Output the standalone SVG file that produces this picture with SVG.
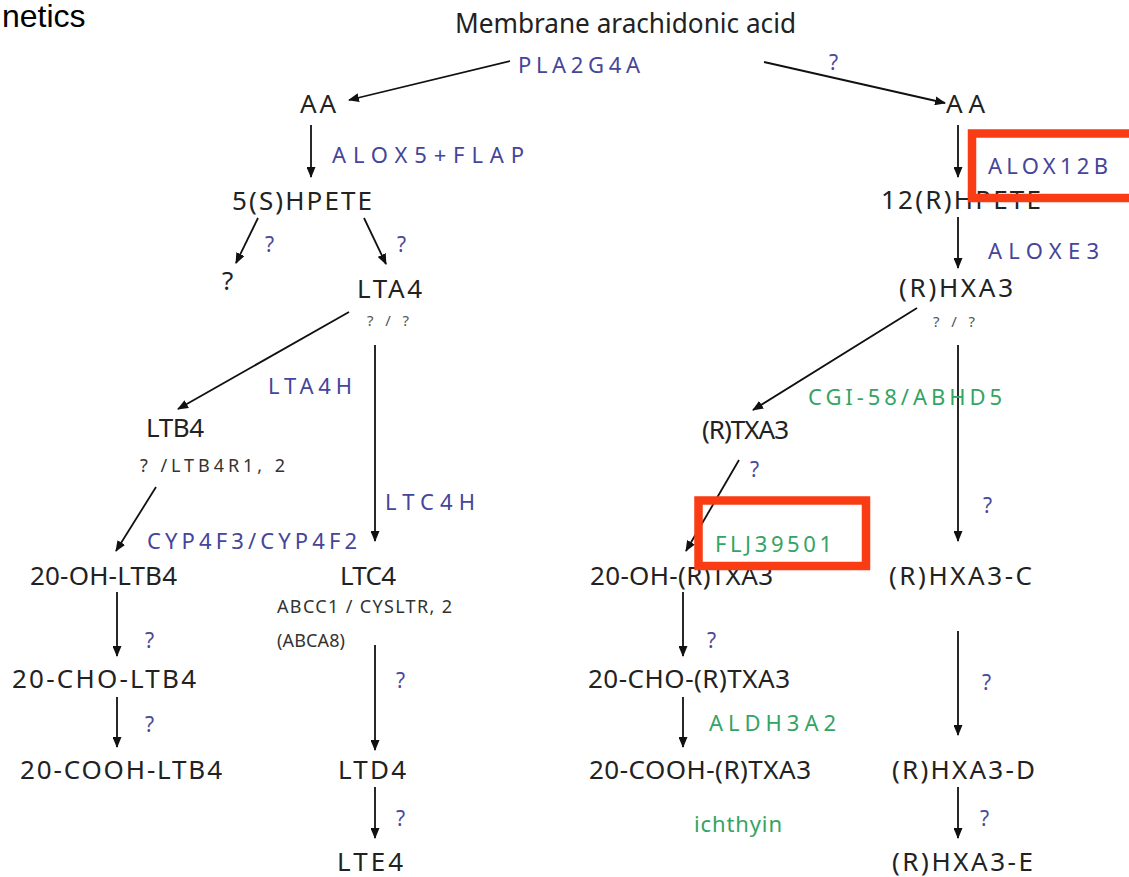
<svg xmlns="http://www.w3.org/2000/svg" width="1129" height="877" viewBox="0 0 1129 877">
  <style>
    .node { font-family: "Noto Sans", "Liberation Sans", sans-serif; font-size: 26px; fill: #222; }
    .title { font-family: "Noto Sans", "Liberation Sans", sans-serif; font-size: 27px; fill: #222; }
    .enz { font-family: "Noto Sans", "Liberation Sans", sans-serif; font-size: 22px; fill: #45459a; }
    .enzg { font-family: "Noto Sans", "Liberation Sans", sans-serif; font-size: 22px; fill: #33a463; }
    .q { font-family: "Noto Sans", "Liberation Sans", sans-serif; font-size: 21px; fill: #4a4a9c; }
    .small { font-family: "Noto Sans", "Liberation Sans", sans-serif; font-size: 15px; fill: #555; }
    .rec { font-family: "Noto Sans", "Liberation Sans", sans-serif; font-size: 18px; fill: #333; }
    .edge { stroke: #111; stroke-width: 1.8; fill: none; marker-end: url(#head); }
    .hl { fill: none; stroke: #fa3c14; stroke-width: 8.5; }
  </style>
  <defs>
    <marker id="head" markerUnits="userSpaceOnUse" markerWidth="11" markerHeight="9" refX="10" refY="4.5" orient="auto">
      <path d="M0,0 L11,4.5 L0,9 z" fill="#111"/>
    </marker>
  </defs>
  <rect width="1129" height="877" fill="#fff"/>

  <text x="2" y="27" font-family="Liberation Sans, Arial, sans-serif" font-size="32" fill="#000">netics</text>

  <!-- reaction arrows -->
  <g id="connectors">
    <line class="edge" x1="510" y1="61" x2="349" y2="100"/>
    <line class="edge" x1="764" y1="62" x2="945" y2="103"/>
    <line class="edge" x1="311" y1="125" x2="311" y2="177"/>
    <line class="edge" x1="258" y1="218" x2="236" y2="263"/>
    <line class="edge" x1="364" y1="218" x2="386" y2="264"/>
    <line class="edge" x1="349" y1="312" x2="178" y2="409"/>
    <line class="edge" x1="375" y1="345" x2="375" y2="541"/>
    <line class="edge" x1="156" y1="487" x2="116" y2="551"/>
    <line class="edge" x1="117" y1="592" x2="117" y2="656"/>
    <line class="edge" x1="117" y1="697" x2="117" y2="747"/>
    <line class="edge" x1="375" y1="645" x2="375" y2="750"/>
    <line class="edge" x1="375" y1="787" x2="375" y2="838"/>
    <line class="edge" x1="958" y1="125" x2="958" y2="177"/>
    <line class="edge" x1="958" y1="217" x2="958" y2="268"/>
    <line class="edge" x1="917" y1="308" x2="753" y2="410"/>
    <line class="edge" x1="958" y1="345" x2="958" y2="541"/>
    <line class="edge" x1="739" y1="460" x2="686" y2="551"/>
    <line class="edge" x1="683" y1="592" x2="683" y2="656"/>
    <line class="edge" x1="683" y1="697" x2="683" y2="747"/>
    <line class="edge" x1="958" y1="631" x2="958" y2="735"/>
    <line class="edge" x1="958" y1="787" x2="958" y2="838"/>
  </g>

  <!-- metabolites -->
  <g id="n-membrane"><text class="title" x="455" y="33" textLength="341" lengthAdjust="spacingAndGlyphs">Membrane arachidonic acid</text></g>
  <g id="n-aa-left"><text class="node" x="300" y="113" textLength="36">AA</text></g>
  <g id="n-aa-right"><text class="node" x="946" y="113" textLength="39">AA</text></g>
  <g id="n-5shpete"><text class="node" x="232" y="210" textLength="140">5(S)HPETE</text></g>
  <g id="n-unknown"><text class="node" x="222" y="290">?</text></g>
  <g id="n-lta4"><text class="node" x="357" y="298" textLength="65">LTA4</text></g>
  <g id="n-ltb4"><text class="node" x="146" y="437" font-size="24" textLength="58">LTB4</text></g>
  <g id="n-20oh-ltb4"><text class="node" x="30" y="585" textLength="147">20-OH-LTB4</text></g>
  <g id="n-ltc4"><text class="node" x="340" y="585" textLength="56">LTC4</text></g>
  <g id="n-20cho-ltb4"><text class="node" x="12" y="688" textLength="184">20-CHO-LTB4</text></g>
  <g id="n-20cooh-ltb4"><text class="node" x="20" y="779" textLength="202">20-COOH-LTB4</text></g>
  <g id="n-ltd4"><text class="node" x="338" y="779" textLength="68">LTD4</text></g>
  <g id="n-lte4"><text class="node" x="337" y="871" textLength="66">LTE4</text></g>
  <g id="n-12rhpete"><text class="node" x="881" y="209" textLength="160">12(R)HPETE</text></g>
  <g id="n-rhxa3"><text class="node" x="899" y="297" textLength="114">(R)HXA3</text></g>
  <g id="n-rtxa3"><text class="node" x="702" y="439" font-size="23" textLength="87">(R)TXA3</text></g>
  <g id="n-20oh-rtxa3"><text class="node" x="590" y="585" textLength="183">20-OH-(R)TXA3</text></g>
  <g id="n-rhxa3-c"><text class="node" x="889" y="585" textLength="143">(R)HXA3-C</text></g>
  <g id="n-20cho-rtxa3"><text class="node" x="588" y="688" textLength="202">20-CHO-(R)TXA3</text></g>
  <g id="n-20cooh-rtxa3"><text class="node" x="589" y="779" textLength="222">20-COOH-(R)TXA3</text></g>
  <g id="n-rhxa3-d"><text class="node" x="892" y="779" textLength="143">(R)HXA3-D</text></g>
  <g id="n-rhxa3-e"><text class="node" x="892" y="871" textLength="141">(R)HXA3-E</text></g>

  <!-- enzymes, receptors and unknown steps -->
  <g id="labels">
    <text class="enz" x="518" y="73" textLength="122">PLA2G4A</text>
    <text class="q" x="829" y="70" font-size="16">?</text>
    <text class="enz" x="332" y="163" textLength="192">ALOX5+FLAP</text>
    <text class="q" x="265" y="252">?</text>
    <text class="q" x="397" y="252">?</text>
    <text class="small" x="367" y="326" textLength="42">? / ?</text>
    <text class="enz" x="268" y="394" textLength="84">LTA4H</text>
    <text class="rec" x="140" y="472" textLength="145">? /LTB4R1, 2</text>
    <text class="enz" x="385" y="510" textLength="90">LTC4H</text>
    <text class="enz" x="147" y="549" textLength="210">CYP4F3/CYP4F2</text>
    <text class="rec" x="277" y="613" font-size="19" textLength="175">ABCC1 / CYSLTR, 2</text>
    <text class="rec" x="277" y="647" font-size="17" textLength="68">(ABCA8)</text>
    <text class="q" x="145" y="648">?</text>
    <text class="q" x="145" y="732">?</text>
    <text class="q" x="396" y="688">?</text>
    <text class="q" x="396" y="826">?</text>

    <text class="enz" x="988" y="174" textLength="120">ALOX12B</text>
    <text class="enz" x="988" y="259" textLength="111">ALOXE3</text>
    <text class="small" x="933" y="327" textLength="42">? / ?</text>
    <text class="enzg" x="808" y="405" textLength="194">CGI-58/ABHD5</text>
    <text class="q" x="750" y="477">?</text>
    <text class="q" x="983" y="513">?</text>
    <text class="enzg" x="715" y="552" textLength="117">FLJ39501</text>
    <text class="q" x="707" y="648">?</text>
    <text class="enzg" x="709" y="731" textLength="127">ALDH3A2</text>
    <text class="enzg" x="694" y="832" textLength="88">ichthyin</text>
    <text class="q" x="982" y="690">?</text>
    <text class="q" x="980" y="826">?</text>
  </g>

  <!-- highlight frames -->
  <g id="highlights">
    <rect class="hl" x="972" y="133.5" width="170" height="64.5"/>
    <rect class="hl" x="698.5" y="500.5" width="167.5" height="65.5"/>
  </g>
</svg>
